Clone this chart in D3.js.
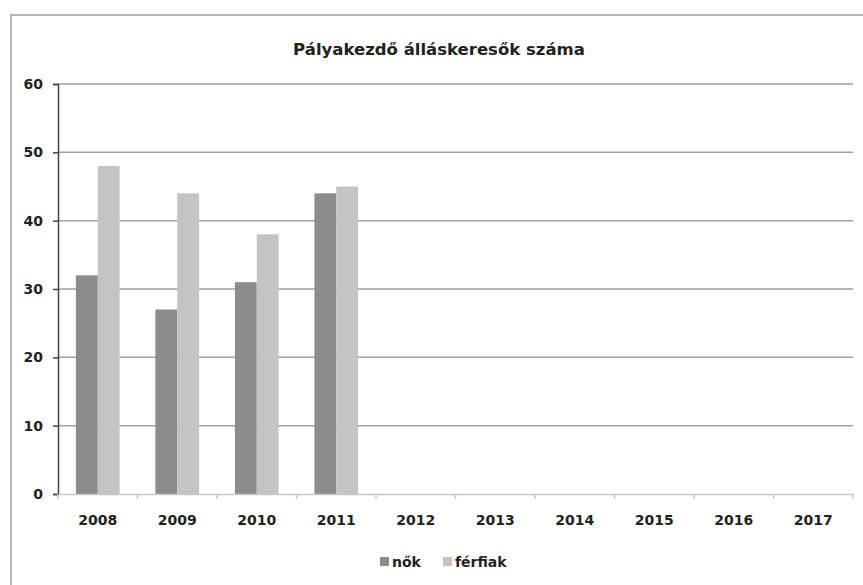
<!DOCTYPE html>
<html>
<head>
<meta charset="utf-8">
<script src="https://cdn.jsdelivr.net/npm/d3@7"></script>
<style>
  body { margin: 0; background: #fff; }
  svg text { font-family: "DejaVu Sans", sans-serif; font-weight: bold; fill: #222; }
</style>
</head>
<body>
<div id="chart"></div>
<script>
// chart data
const years = ["2008", "2009", "2010", "2011", "2012", "2013", "2014", "2015", "2016", "2017"];
const nok = [32, 27, 31, 44, null, null, null, null, null, null];
const ferfiak = [48, 44, 38, 45, null, null, null, null, null, null];
const seriesNames = ["nők", "férfiak"];
const yTicks = [0, 10, 20, 30, 40, 50, 60];
const title = "Pályakezdő álláskeresők száma";

const width = 863, height = 585;
const margin = { top: 84, right: 10, bottom: 91, left: 58 };
const colors = ["#8c8c8c", "#c4c4c4"];

let svg = d3.select("#chart").append("svg")
    .attr("width", width)
    .attr("height", height);

// outer chart frame
svg.append("rect")
    .attr("x", 11).attr("y", 15)
    .attr("width", width + 20).attr("height", height + 20)
    .attr("fill", "none")
    .attr("stroke", "#b5b5b5")
    .attr("stroke-width", 2);

let x = d3.scaleBand()
    .domain(years)
    .range([margin.left, width - margin.right])
    .paddingInner(0.45)
    .paddingOuter(0.225);

let xSub = d3.scaleBand()
    .domain(seriesNames)
    .range([0, x.bandwidth()]);

let y = d3.scaleLinear()
    .domain([0, 60])
    .range([height - margin.bottom, margin.top]);

// gridlines
svg.append("g")
    .selectAll("line")
    .data(yTicks.slice(1))
    .enter().append("line")
    .attr("x1", margin.left).attr("x2", width - margin.right)
    .attr("y1", d => y(d)).attr("y2", d => y(d))
    .attr("stroke", "#a0a0a0")
    .attr("stroke-width", 1.5);

// bars
let rows = years.map((yr, i) => ({ year: yr, values: [nok[i], ferfiak[i]] }));
let groups = svg.append("g")
    .selectAll("g")
    .data(rows)
    .enter().append("g")
    .attr("transform", d => "translate(" + x(d.year) + ",0)");

groups.selectAll("rect")
    .data(d => d.values.map((v, j) => ({ key: seriesNames[j], value: v, j: j })).filter(d => d.value != null))
    .enter().append("rect")
    .attr("x", d => xSub(d.key))
    .attr("width", xSub.bandwidth())
    .attr("y", d => y(d.value))
    .attr("height", d => y(0) - y(d.value))
    .attr("fill", d => colors[d.j]);

// y axis
let yAxis = svg.append("g")
    .attr("transform", "translate(" + margin.left + ",0)")
    .call(d3.axisLeft(y).tickValues(yTicks).tickSize(5).tickPadding(10));
yAxis.select(".domain").attr("stroke", "#444").attr("stroke-width", 1.5);
yAxis.selectAll(".tick line").attr("stroke", "#444").attr("stroke-width", 1.5);
yAxis.selectAll("text").style("font-size", "14px");

// x axis
let xAxis = svg.append("g")
    .attr("transform", "translate(0," + y(0) + ")")
    .call(d3.axisBottom(x).tickSize(0).tickPadding(21));
xAxis.select(".domain").attr("stroke", "#c8c8c8").attr("stroke-width", 1.5);
xAxis.selectAll("text").style("font-size", "14px");

// category separators below the baseline
let step = x.step();
svg.append("g")
    .selectAll("line")
    .data(d3.range(years.length + 1))
    .enter().append("line")
    .attr("x1", d => margin.left + d * step)
    .attr("x2", d => margin.left + d * step)
    .attr("y1", y(0)).attr("y2", y(0) + 5)
    .attr("stroke", "#c8c8c8")
    .attr("stroke-width", 1.5);

// title
svg.append("text")
    .attr("x", 439).attr("y", 55)
    .attr("text-anchor", "middle")
    .style("font-size", "16.5px")
    .text(title);

// legend
let legend = svg.append("g").attr("transform", "translate(380,562)");
let legendX = [0, 63];
seriesNames.forEach((name, i) => {
    legend.append("rect")
        .attr("x", legendX[i]).attr("y", -5)
        .attr("width", 9).attr("height", 9)
        .attr("fill", colors[i]);
    legend.append("text")
        .attr("x", legendX[i] + 12).attr("y", 0)
        .attr("dy", "0.35em")
        .style("font-size", "14px")
        .text(name);
});
</script>
</body>
</html>
